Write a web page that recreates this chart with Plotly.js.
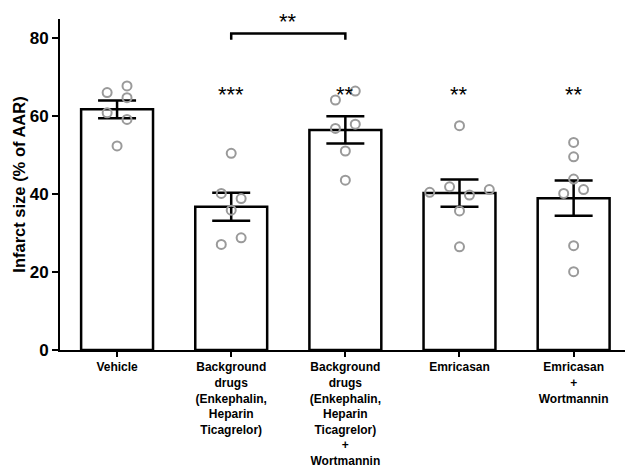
<!DOCTYPE html>
<html>
<head>
<meta charset="utf-8">
<script src="https://cdn.plot.ly/plotly-3.0.1.min.js"></script>
<style>html,body{margin:0;padding:0;background:#fff;}#chart{width:625px;height:470px;}</style>
</head>
<body>
<div id="chart"></div>
<script>
// ---- data ----
var categories = [
  "Vehicle",
  "Background<br>drugs<br>(Enkephalin,<br>Heparin<br>Ticagrelor)",
  "Background<br>drugs<br>(Enkephalin,<br>Heparin<br>Ticagrelor)<br>+<br>Wortmannin",
  "Emricasan",
  "Emricasan<br>+<br>Wortmannin"
];
var means = [61.8, 36.8, 56.5, 40.3, 39.0];
var sems = [2.3, 3.6, 3.5, 3.5, 4.5];

var vehiclePts = [66.1, 67.8, 64.8, 60.9, 59.2, 52.4];
var backgroundPts = [50.5, 40.2, 38.9, 35.9, 28.8, 27.1];
var backgroundWortPts = [64.2, 66.5, 56.9, 58.0, 51.1, 43.6];
var emricasanPts = [57.6, 40.5, 41.9, 39.8, 41.2, 35.7, 26.5];
var emricasanWortPts = [53.3, 49.6, 43.9, 40.2, 41.2, 26.8, 20.1];

// horizontal scatter slot of each point (in dot widths)
var vehicleSlots = [-1, 1, 1, -1, 1, 0];
var backgroundSlots = [0, -1, 1, 0, 1, -1];
var backgroundWortSlots = [-1, 1, -1, 1, 0, 0];
var emricasanSlots = [0, -3, -1, 1, 3, 0, 0];
var emricasanWortSlots = [0, 0, 0, -1, 1, 0, 0];

var significance = ["", "***", "**", "**", "**"];
var bracketPair = [1, 2];
var bracketLabel = "**";

// ---- build ----
var groups = [vehiclePts, backgroundPts, backgroundWortPts, emricasanPts, emricasanWortPts];
var slots = [vehicleSlots, backgroundSlots, backgroundWortSlots, emricasanSlots, emricasanWortSlots];
var slotW = 0.087;
var px = [], py = [];
groups.forEach(function (g, i) {
  g.forEach(function (v, j) { px.push(i + slots[i][j] * slotW); py.push(v); });
});
var idx = categories.map(function (_, i) { return i; });

var font = {family: "Liberation Sans, Arial, sans-serif", color: "#000"};

var traces = [
  {
    type: "bar", x: idx, y: means, width: 0.63,
    marker: {color: "#fff", line: {color: "#000", width: 2.5}},
    error_y: {type: "data", array: sems, visible: true, color: "#000", thickness: 2.5, width: 19},
    hoverinfo: "skip"
  },
  {
    type: "scatter", mode: "markers", x: px, y: py,
    marker: {symbol: "circle-open", size: 9, color: "#9a9a9a", line: {width: 2, color: "#9a9a9a"}},
    hoverinfo: "skip"
  }
];

var annotations = [];
significance.forEach(function (s, i) {
  if (s) annotations.push({x: i, y: 65.5, xref: "x", yref: "y", text: s, showarrow: false,
    font: {family: font.family, size: 22, color: "#000"}});
});
annotations.push({x: (bracketPair[0] + bracketPair[1]) / 2, y: 1.0, xref: "x", yref: "paper", yanchor: "middle",
  yshift: -2, text: bracketLabel, showarrow: false, font: {family: font.family, size: 22, color: "#000"}});

var shapes = [{
  type: "path", xref: "x", yref: "y",
  path: "M" + bracketPair[0] + ",79.7 L" + bracketPair[0] + ",81.3 L" + bracketPair[1] + ",81.3 L" + bracketPair[1] + ",79.7",
  line: {color: "#000", width: 2.5}
}];

var layout = {
  width: 625, height: 470,
  margin: {l: 60, r: 0, t: 19, b: 120},
  paper_bgcolor: "#fff", plot_bgcolor: "#fff",
  showlegend: false,
  bargap: 0,
  xaxis: {
    range: [-0.5, 4.45], tickmode: "array", tickvals: idx, ticktext: categories,
    showline: true, linecolor: "#000", linewidth: 2, ticks: "outside", ticklen: 5, tickwidth: 2, tickcolor: "#000",
    showgrid: false, zeroline: false, tickangle: 0,
    tickfont: {family: font.family, size: 12, color: "#000", weight: "bold"}
  },
  yaxis: {
    range: [0, 85], tickvals: [0, 20, 40, 60, 80],
    showline: true, linecolor: "#000", linewidth: 2, ticks: "outside", ticklen: 6, tickwidth: 2, tickcolor: "#000",
    showgrid: false, zeroline: false,
    tickfont: {family: font.family, size: 17, color: "#000", weight: "bold"},
    title: {text: "Infarct size (% of AAR)", standoff: 0, font: {family: font.family, size: 16.5, color: "#000", weight: "bold"}}
  },
  annotations: annotations,
  shapes: shapes
};

Plotly.newPlot("chart", traces, layout, {displayModeBar: false, staticPlot: true});
</script>
</body>
</html>
